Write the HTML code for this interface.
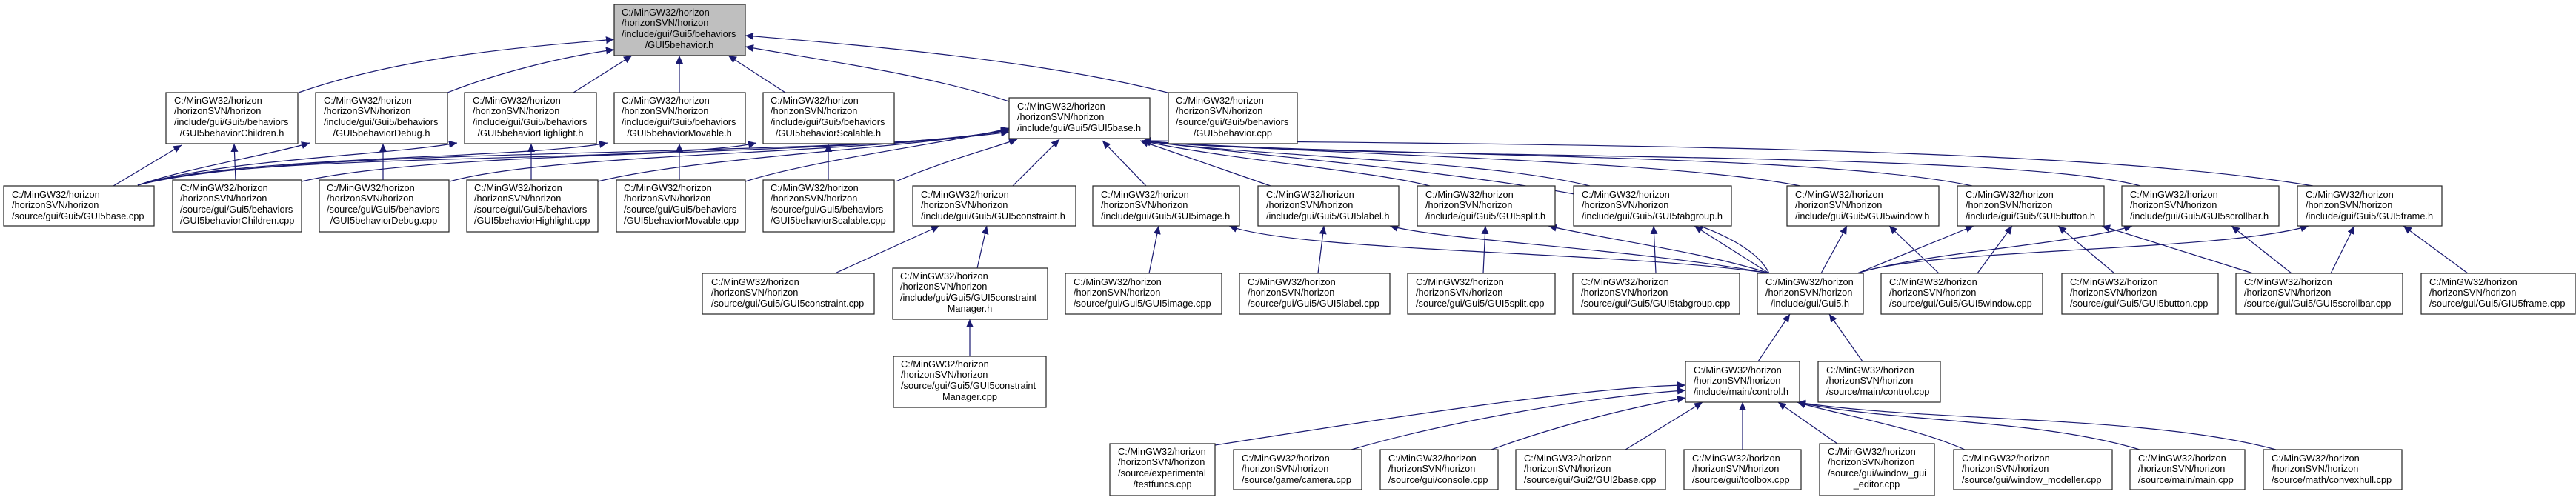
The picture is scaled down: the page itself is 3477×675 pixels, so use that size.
<!DOCTYPE html>
<html><head><meta charset="utf-8"><style>
html,body{margin:0;padding:0;background:#fff;width:3477px;height:675px;overflow:hidden}
svg{display:block}
text{font-family:"Liberation Sans",Arial,sans-serif;font-size:12.8px;fill:#000}
.n{fill:#fff;stroke:#222;stroke-width:1.2}
.e{fill:none;stroke:#191970;stroke-width:1.2}
</style></head><body>
<svg width="3477" height="675" viewBox="0 0 3477 675" xmlns="http://www.w3.org/2000/svg">
<defs><marker id="a" markerUnits="userSpaceOnUse" markerWidth="12" markerHeight="10" refX="11" refY="5" orient="auto"><path d="M0,0 L11,5 L0,10 z" fill="#191970"/></marker></defs>
<g class="e" marker-end="url(#a)">
<path d="M403,125 C560,70 760,60 829,53"/>
<path d="M604,125 C680,95 770,75 829,67"/>
<path d="M774,125 L853,75"/>
<path d="M917,125 L917,75"/>
<path d="M1060,125 L983,75"/>
<path d="M1362,137 C1250,100 1100,80 1006,63"/>
<path d="M1580,126 C1400,80 1150,60 1006,48"/>
<path d="M153,251 L245,196"/>
<path d="M318,243 L316,194"/>
<path d="M186,250 C260,225 360,210 418,193"/>
<path d="M517,243 L517,194"/>
<path d="M186,250 C300,215 520,210 617,193"/>
<path d="M717,243 L717,194"/>
<path d="M186,250 C320,210 700,215 820,193"/>
<path d="M917,243 L917,194"/>
<path d="M186,250 C330,205 900,220 1021,193"/>
<path d="M1118,243 L1118,194"/>
<path d="M186,250 C400,195 1100,215 1362,178"/>
<path d="M407,245 C600,200 1150,212 1362,176"/>
<path d="M607,245 C750,205 1200,208 1362,175"/>
<path d="M807,245 C950,210 1250,200 1362,174"/>
<path d="M1006,245 C1100,215 1300,190 1362,173"/>
<path d="M1209,245 C1280,215 1340,200 1373,188"/>
<path d="M1367,251 L1430,188"/>
<path d="M1547,251 L1488,190"/>
<path d="M1715,251 L1539,190"/>
<path d="M1930,251 C1850,230 1650,215 1542,190"/>
<path d="M2146,251 C2000,215 1700,212 1542,190"/>
<path d="M2430,251 C2250,215 1750,208 1542,190"/>
<path d="M2662,251 C2450,205 1800,212 1542,190"/>
<path d="M2889,251 C2700,200 1800,218 1542,190"/>
<path d="M3122,251 C2850,205 2300,195 1542,190"/>
<path d="M2388,369 C2330,250 1800,225 1542,190"/>
<path d="M2388,369 C2200,340 1750,340 1659,305"/>
<path d="M2388,369 C2200,335 1950,325 1876,305"/>
<path d="M2388,369 C2300,340 2150,320 2090,305"/>
<path d="M2388,369 L2287,305"/>
<path d="M2458,369 L2493,305"/>
<path d="M2507,369 L2664,305"/>
<path d="M2507,369 C2600,340 2800,330 2878,305"/>
<path d="M2507,369 C2600,335 3000,340 3116,305"/>
<path d="M1127,369 L1268,305"/>
<path d="M1319,362 L1332,305"/>
<path d="M1309,481 L1309,431"/>
<path d="M1551,369 L1564,305"/>
<path d="M1779,369 L1787,305"/>
<path d="M2002,369 L2005,305"/>
<path d="M2235,369 L2232,305"/>
<path d="M2617,369 L2550,305"/>
<path d="M2669,369 L2716,305"/>
<path d="M2854,369 L2778,305"/>
<path d="M3041,369 L2837,305"/>
<path d="M3093,369 L3012,305"/>
<path d="M3146,369 L3178,305"/>
<path d="M3331,369 L3244,305"/>
<path d="M2373,488 L2416,424"/>
<path d="M2514,488 L2469,424"/>
<path d="M1640,601 C1900,560 2150,522 2275,520"/>
<path d="M1824,607 C1950,570 2150,535 2275,527"/>
<path d="M2013,607 C2100,575 2200,550 2275,537"/>
<path d="M2194,607 L2298,543"/>
<path d="M2352,607 L2352,543"/>
<path d="M2480,599 L2400,543"/>
<path d="M2652,607 C2580,575 2480,560 2426,543"/>
<path d="M2888,607 C2750,565 2550,570 2426,543"/>
<path d="M3072,607 C2900,560 2600,570 2426,543"/>
</g>

<rect x="829" y="6" width="177" height="69" fill="#bfbfbf" stroke="#222" stroke-width="1.2"/>
<text x="839" y="21">C:/MinGW32/horizon</text><text x="839" y="35">/horizonSVN/horizon</text><text x="839" y="50">/include/gui/Gui5/behaviors</text><text x="917" y="65" text-anchor="middle">/GUI5behavior.h</text>

<rect class="n" x="224" y="125" width="178" height="69"/>
<text x="235" y="140">C:/MinGW32/horizon</text><text x="235" y="154">/horizonSVN/horizon</text><text x="235" y="169">/include/gui/Gui5/behaviors</text><text x="313" y="184" text-anchor="middle">/GUI5behaviorChildren.h</text>
<rect class="n" x="426" y="125" width="178" height="69"/>
<text x="437" y="140">C:/MinGW32/horizon</text><text x="437" y="154">/horizonSVN/horizon</text><text x="437" y="169">/include/gui/Gui5/behaviors</text><text x="515" y="184" text-anchor="middle">/GUI5behaviorDebug.h</text>
<rect class="n" x="627" y="125" width="178" height="69"/>
<text x="638" y="140">C:/MinGW32/horizon</text><text x="638" y="154">/horizonSVN/horizon</text><text x="638" y="169">/include/gui/Gui5/behaviors</text><text x="716" y="184" text-anchor="middle">/GUI5behaviorHighlight.h</text>
<rect class="n" x="829" y="125" width="177" height="69"/>
<text x="839" y="140">C:/MinGW32/horizon</text><text x="839" y="154">/horizonSVN/horizon</text><text x="839" y="169">/include/gui/Gui5/behaviors</text><text x="917" y="184" text-anchor="middle">/GUI5behaviorMovable.h</text>
<rect class="n" x="1030" y="125" width="177" height="69"/>
<text x="1040" y="140">C:/MinGW32/horizon</text><text x="1040" y="154">/horizonSVN/horizon</text><text x="1040" y="169">/include/gui/Gui5/behaviors</text><text x="1118" y="184" text-anchor="middle">/GUI5behaviorScalable.h</text>
<rect class="n" x="1577" y="125" width="174" height="69"/>
<text x="1587" y="140">C:/MinGW32/horizon</text><text x="1587" y="154">/horizonSVN/horizon</text><text x="1587" y="169">/source/gui/Gui5/behaviors</text><text x="1664" y="184" text-anchor="middle">/GUI5behavior.cpp</text>
<rect class="n" x="1362" y="132" width="190" height="55"/>
<text x="1373" y="148">C:/MinGW32/horizon</text><text x="1373" y="162">/horizonSVN/horizon</text><text x="1373" y="177">/include/gui/Gui5/GUI5base.h</text>

<rect class="n" x="5" y="251" width="203" height="54"/>
<text x="16" y="267">C:/MinGW32/horizon</text><text x="16" y="281">/horizonSVN/horizon</text><text x="16" y="296">/source/gui/Gui5/GUI5base.cpp</text>
<rect class="n" x="233" y="243" width="174" height="70"/>
<text x="243" y="258">C:/MinGW32/horizon</text><text x="243" y="272">/horizonSVN/horizon</text><text x="243" y="287">/source/gui/Gui5/behaviors</text><text x="243" y="302">/GUI5behaviorChildren.cpp</text>
<rect class="n" x="431" y="243" width="175" height="70"/>
<text x="441" y="258">C:/MinGW32/horizon</text><text x="441" y="272">/horizonSVN/horizon</text><text x="441" y="287">/source/gui/Gui5/behaviors</text><text x="518" y="302" text-anchor="middle">/GUI5behaviorDebug.cpp</text>
<rect class="n" x="630" y="243" width="177" height="70"/>
<text x="640" y="258">C:/MinGW32/horizon</text><text x="640" y="272">/horizonSVN/horizon</text><text x="640" y="287">/source/gui/Gui5/behaviors</text><text x="640" y="302">/GUI5behaviorHighlight.cpp</text>
<rect class="n" x="832" y="243" width="174" height="70"/>
<text x="842" y="258">C:/MinGW32/horizon</text><text x="842" y="272">/horizonSVN/horizon</text><text x="842" y="287">/source/gui/Gui5/behaviors</text><text x="842" y="302">/GUI5behaviorMovable.cpp</text>
<rect class="n" x="1030" y="243" width="177" height="70"/>
<text x="1040" y="258">C:/MinGW32/horizon</text><text x="1040" y="272">/horizonSVN/horizon</text><text x="1040" y="287">/source/gui/Gui5/behaviors</text><text x="1040" y="302">/GUI5behaviorScalable.cpp</text>
<rect class="n" x="1232" y="251" width="220" height="54"/>
<text x="1243" y="267">C:/MinGW32/horizon</text><text x="1243" y="281">/horizonSVN/horizon</text><text x="1243" y="296">/include/gui/Gui5/GUI5constraint.h</text>
<rect class="n" x="1475" y="251" width="198" height="54"/>
<text x="1486" y="267">C:/MinGW32/horizon</text><text x="1486" y="281">/horizonSVN/horizon</text><text x="1486" y="296">/include/gui/Gui5/GUI5image.h</text>
<rect class="n" x="1698" y="251" width="190" height="54"/>
<text x="1709" y="267">C:/MinGW32/horizon</text><text x="1709" y="281">/horizonSVN/horizon</text><text x="1709" y="296">/include/gui/Gui5/GUI5label.h</text>
<rect class="n" x="1913" y="251" width="186" height="54"/>
<text x="1924" y="267">C:/MinGW32/horizon</text><text x="1924" y="281">/horizonSVN/horizon</text><text x="1924" y="296">/include/gui/Gui5/GUI5split.h</text>
<rect class="n" x="2124" y="251" width="213" height="54"/>
<text x="2135" y="267">C:/MinGW32/horizon</text><text x="2135" y="281">/horizonSVN/horizon</text><text x="2135" y="296">/include/gui/Gui5/GUI5tabgroup.h</text>
<rect class="n" x="2412" y="251" width="205" height="54"/>
<text x="2423" y="267">C:/MinGW32/horizon</text><text x="2423" y="281">/horizonSVN/horizon</text><text x="2423" y="296">/include/gui/Gui5/GUI5window.h</text>
<rect class="n" x="2642" y="251" width="198" height="54"/>
<text x="2653" y="267">C:/MinGW32/horizon</text><text x="2653" y="281">/horizonSVN/horizon</text><text x="2653" y="296">/include/gui/Gui5/GUI5button.h</text>
<rect class="n" x="2864" y="251" width="212" height="54"/>
<text x="2875" y="267">C:/MinGW32/horizon</text><text x="2875" y="281">/horizonSVN/horizon</text><text x="2875" y="296">/include/gui/Gui5/GUI5scrollbar.h</text>
<rect class="n" x="3101" y="251" width="195" height="54"/>
<text x="3112" y="267">C:/MinGW32/horizon</text><text x="3112" y="281">/horizonSVN/horizon</text><text x="3112" y="296">/include/gui/Gui5/GUI5frame.h</text>

<rect class="n" x="948" y="369" width="232" height="55"/>
<text x="960" y="385">C:/MinGW32/horizon</text><text x="960" y="399">/horizonSVN/horizon</text><text x="960" y="414">/source/gui/Gui5/GUI5constraint.cpp</text>
<rect class="n" x="1205" y="362" width="209" height="69"/>
<text x="1215" y="377">C:/MinGW32/horizon</text><text x="1215" y="391">/horizonSVN/horizon</text><text x="1215" y="406">/include/gui/Gui5/GUI5constraint</text><text x="1309" y="421" text-anchor="middle">Manager.h</text>
<rect class="n" x="1438" y="369" width="211" height="55"/>
<text x="1449" y="385">C:/MinGW32/horizon</text><text x="1449" y="399">/horizonSVN/horizon</text><text x="1449" y="414">/source/gui/Gui5/GUI5image.cpp</text>
<rect class="n" x="1673" y="369" width="203" height="55"/>
<text x="1684" y="385">C:/MinGW32/horizon</text><text x="1684" y="399">/horizonSVN/horizon</text><text x="1684" y="414">/source/gui/Gui5/GUI5label.cpp</text>
<rect class="n" x="1900" y="369" width="199" height="55"/>
<text x="1911" y="385">C:/MinGW32/horizon</text><text x="1911" y="399">/horizonSVN/horizon</text><text x="1911" y="414">/source/gui/Gui5/GUI5split.cpp</text>
<rect class="n" x="2123" y="369" width="225" height="55"/>
<text x="2134" y="385">C:/MinGW32/horizon</text><text x="2134" y="399">/horizonSVN/horizon</text><text x="2134" y="414">/source/gui/Gui5/GUI5tabgroup.cpp</text>
<rect class="n" x="2372" y="369" width="143" height="55"/>
<text x="2383" y="385">C:/MinGW32/horizon</text><text x="2383" y="399">/horizonSVN/horizon</text><text x="2443" y="414" text-anchor="middle">/include/gui/Gui5.h</text>
<rect class="n" x="2539" y="369" width="218" height="55"/>
<text x="2550" y="385">C:/MinGW32/horizon</text><text x="2550" y="399">/horizonSVN/horizon</text><text x="2550" y="414">/source/gui/Gui5/GUI5window.cpp</text>
<rect class="n" x="2783" y="369" width="211" height="55"/>
<text x="2794" y="385">C:/MinGW32/horizon</text><text x="2794" y="399">/horizonSVN/horizon</text><text x="2794" y="414">/source/gui/Gui5/GUI5button.cpp</text>
<rect class="n" x="3018" y="369" width="225" height="55"/>
<text x="3029" y="385">C:/MinGW32/horizon</text><text x="3029" y="399">/horizonSVN/horizon</text><text x="3029" y="414">/source/gui/Gui5/GUI5scrollbar.cpp</text>
<rect class="n" x="3268" y="369" width="208" height="55"/>
<text x="3279" y="385">C:/MinGW32/horizon</text><text x="3279" y="399">/horizonSVN/horizon</text><text x="3279" y="414">/source/gui/Gui5/GIU5frame.cpp</text>

<rect class="n" x="1206" y="481" width="206" height="69"/>
<text x="1216" y="496">C:/MinGW32/horizon</text><text x="1216" y="510">/horizonSVN/horizon</text><text x="1216" y="525">/source/gui/Gui5/GUI5constraint</text><text x="1309" y="540" text-anchor="middle">Manager.cpp</text>
<rect class="n" x="2275" y="488" width="154" height="55"/>
<text x="2286" y="504">C:/MinGW32/horizon</text><text x="2286" y="518">/horizonSVN/horizon</text><text x="2286" y="533">/include/main/control.h</text>
<rect class="n" x="2454" y="488" width="165" height="55"/>
<text x="2465" y="504">C:/MinGW32/horizon</text><text x="2465" y="518">/horizonSVN/horizon</text><text x="2465" y="533">/source/main/control.cpp</text>

<rect class="n" x="1498" y="599" width="142" height="70"/>
<text x="1509" y="614">C:/MinGW32/horizon</text><text x="1509" y="628">/horizonSVN/horizon</text><text x="1509" y="643">/source/experimental</text><text x="1569" y="658" text-anchor="middle">/testfuncs.cpp</text>
<rect class="n" x="1665" y="607" width="173" height="54"/>
<text x="1676" y="623">C:/MinGW32/horizon</text><text x="1676" y="637">/horizonSVN/horizon</text><text x="1676" y="652">/source/game/camera.cpp</text>
<rect class="n" x="1863" y="607" width="159" height="54"/>
<text x="1874" y="623">C:/MinGW32/horizon</text><text x="1874" y="637">/horizonSVN/horizon</text><text x="1874" y="652">/source/gui/console.cpp</text>
<rect class="n" x="2046" y="607" width="202" height="54"/>
<text x="2057" y="623">C:/MinGW32/horizon</text><text x="2057" y="637">/horizonSVN/horizon</text><text x="2057" y="652">/source/gui/Gui2/GUI2base.cpp</text>
<rect class="n" x="2273" y="607" width="158" height="54"/>
<text x="2284" y="623">C:/MinGW32/horizon</text><text x="2284" y="637">/horizonSVN/horizon</text><text x="2284" y="652">/source/gui/toolbox.cpp</text>
<rect class="n" x="2456" y="599" width="155" height="70"/>
<text x="2467" y="614">C:/MinGW32/horizon</text><text x="2467" y="628">/horizonSVN/horizon</text><text x="2467" y="643">/source/gui/window_gui</text><text x="2533" y="658" text-anchor="middle">_editor.cpp</text>
<rect class="n" x="2637" y="607" width="214" height="54"/>
<text x="2648" y="623">C:/MinGW32/horizon</text><text x="2648" y="637">/horizonSVN/horizon</text><text x="2648" y="652">/source/gui/window_modeller.cpp</text>
<rect class="n" x="2875" y="607" width="155" height="54"/>
<text x="2886" y="623">C:/MinGW32/horizon</text><text x="2886" y="637">/horizonSVN/horizon</text><text x="2886" y="652">/source/main/main.cpp</text>
<rect class="n" x="3055" y="607" width="187" height="54"/>
<text x="3066" y="623">C:/MinGW32/horizon</text><text x="3066" y="637">/horizonSVN/horizon</text><text x="3066" y="652">/source/math/convexhull.cpp</text>
</svg>
</body></html>
